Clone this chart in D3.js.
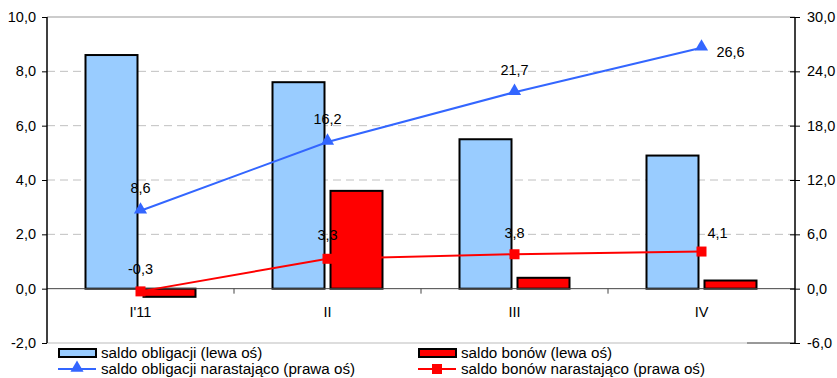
<!DOCTYPE html>
<html>
<head>
<meta charset="utf-8">
<script src="https://cdn.jsdelivr.net/npm/d3@7"></script>
<style>
  html, body { margin: 0; padding: 0; background: #fff; }
  svg { display: block; }
  text { font-family: "Liberation Sans", Arial, sans-serif; font-size: 14.5px; fill: #000; }
  .legend text { font-size: 15.2px; }
</style>
</head>
<body>
<svg id="chart" width="837" height="378"></svg>
<script>
// Quarterly categories
const categories = ["I'11", "II", "III", "IV"];

// Bars, left axis
const saldoObligacji = [8.6, 7.6, 5.5, 4.9];
const saldoBonow = [-0.3, 3.6, 0.4, 0.3];

// Cumulative lines, right axis
const obligacjiNarastajaco = [8.6, 16.2, 21.7, 26.6];
const bonowNarastajaco = [-0.3, 3.3, 3.8, 4.1];

// Axis ticks
const leftTicks = [-2, 0, 2, 4, 6, 8, 10];
const rightTicks = [-6, 0, 6, 12, 18, 24, 30];

const legendLabels = [
  "saldo obligacji (lewa oś)",
  "saldo bonów (lewa oś)",
  "saldo obligacji narastająco (prawa oś)",
  "saldo bonów narastająco (prawa oś)"
];

const BLUE_BAR = "#99CCFF", RED = "#FF0000", BLUE_LINE = "#3366FF";
const fmt = v => d3.format(".1f")(v).replace(".", ",").replace("−", "-");

const svg = d3.select("#chart");
const L = 47, R = 795, T = 17, B = 343;

const x = d3.scaleBand().domain(categories).range([L, R]).padding(0);
const yL = d3.scaleLinear().domain([-2, 10]).range([B, T]);
const yR = d3.scaleLinear().domain([-6, 30]).range([B, T]);
const inner = d3.scaleBand().domain(["obl", "bon"]).range([-55, 55]).paddingInner(6 / 58);
const cx = c => x(c) + x.bandwidth() / 2;

// Dashed grid lines
svg.append("g").selectAll("line")
  .data(leftTicks.filter(t => t > 0 && t < 10))
  .join("line")
  .attr("x1", L).attr("x2", R)
  .attr("y1", d => yL(d)).attr("y2", d => yL(d))
  .attr("stroke", "#c0c0c0").attr("stroke-width", 1)
  .attr("stroke-dasharray", "8,5");

// Plot frame (top and bottom)
svg.append("line").attr("x1", L).attr("x2", R).attr("y1", T).attr("y2", T)
  .attr("stroke", "#999").attr("stroke-width", 1.2);
svg.append("line").attr("x1", L).attr("x2", R).attr("y1", B).attr("y2", B)
  .attr("stroke", "#bbb").attr("stroke-width", 1);
svg.append("line").attr("x1", 747).attr("x2", R).attr("y1", B).attr("y2", B)
  .attr("stroke", "#555").attr("stroke-width", 1);

// Bars
const bars = svg.append("g");
bars.selectAll("rect.obl").data(categories).join("rect")
  .attr("x", (d) => cx(d) + inner("obl"))
  .attr("width", inner.bandwidth())
  .attr("y", (d, i) => yL(Math.max(0, saldoObligacji[i])))
  .attr("height", (d, i) => Math.abs(yL(saldoObligacji[i]) - yL(0)))
  .attr("fill", BLUE_BAR).attr("stroke", "#000").attr("stroke-width", 2);
bars.selectAll("rect.bon").data(categories).join("rect")
  .attr("x", (d) => cx(d) + inner("bon"))
  .attr("width", inner.bandwidth())
  .attr("y", (d, i) => yL(Math.max(0, saldoBonow[i])))
  .attr("height", (d, i) => Math.abs(yL(saldoBonow[i]) - yL(0)))
  .attr("fill", RED).attr("stroke", "#000").attr("stroke-width", 2);

// Zero line and category ticks
svg.append("line").attr("x1", L).attr("x2", R).attr("y1", yL(0)).attr("y2", yL(0))
  .attr("stroke", "#444").attr("stroke-width", 1);
svg.append("g").selectAll("line")
  .data(categories.slice(1))
  .join("line")
  .attr("x1", d => x(d)).attr("x2", d => x(d))
  .attr("y1", yL(0)).attr("y2", yL(0) + 5)
  .attr("stroke", "#444");

// Category labels
svg.append("g").selectAll("text").data(categories).join("text")
  .attr("x", d => cx(d)).attr("y", yL(0) + 28)
  .attr("text-anchor", "middle").text(d => d);

// Left axis
const gl = svg.append("g").attr("transform", `translate(${L},0)`)
  .call(d3.axisLeft(yL).tickValues(leftTicks).tickSize(5).tickPadding(6).tickFormat(fmt));
gl.select(".domain").attr("stroke", "#000").attr("stroke-width", 1.5).attr("d", `M0,${T}V${B}`);
gl.selectAll(".tick line").attr("stroke", "#000");
gl.attr("font-size", null).attr("font-family", null);

// Right axis
const gr = svg.append("g").attr("transform", `translate(${R},0)`)
  .call(d3.axisRight(yR).tickValues(rightTicks).tickSize(5).tickPadding(7).tickFormat(fmt));
gr.select(".domain").attr("stroke", "#000").attr("stroke-width", 1.5).attr("d", `M0,${T}V${B}`);
gr.selectAll(".tick line").attr("stroke", "#000").attr("x1", -5);
gr.attr("font-size", null).attr("font-family", null);

// Cumulative lines
const line = d3.line().x((d, i) => cx(categories[i])).y(d => yR(d));
svg.append("path").datum(obligacjiNarastajaco).attr("d", line)
  .attr("fill", "none").attr("stroke", BLUE_LINE).attr("stroke-width", 2);
svg.append("path").datum(bonowNarastajaco).attr("d", line)
  .attr("fill", "none").attr("stroke", RED).attr("stroke-width", 2);

const tri = d3.symbol().type(d3.symbolTriangle).size(75);
svg.append("g").selectAll("path").data(obligacjiNarastajaco).join("path")
  .attr("d", tri)
  .attr("transform", (d, i) => `translate(${cx(categories[i])},${yR(d) - 1})`)
  .attr("fill", BLUE_LINE);
svg.append("g").selectAll("rect").data(bonowNarastajaco).join("rect")
  .attr("x", (d, i) => cx(categories[i]) - 5).attr("y", d => yR(d) - 5)
  .attr("width", 10).attr("height", 10).attr("fill", RED);

// Value labels (offset per point: dx, dy from the marker)
const oblLabelOffset = [[0, -18], [0, -18], [0, -17], [29, 9]];
const bonLabelOffset = [[0, -17], [0, -19], [0, -16], [16, -14]];
svg.append("g").selectAll("text").data(obligacjiNarastajaco).join("text")
  .attr("x", (d, i) => cx(categories[i]) + oblLabelOffset[i][0])
  .attr("y", (d, i) => yR(d) + oblLabelOffset[i][1])
  .attr("text-anchor", "middle").text(fmt);
svg.append("g").selectAll("text").data(bonowNarastajaco).join("text")
  .attr("x", (d, i) => cx(categories[i]) + bonLabelOffset[i][0])
  .attr("y", (d, i) => yR(d) + bonLabelOffset[i][1])
  .attr("text-anchor", "middle").text(fmt);

// Legend
const legend = svg.append("g").attr("class", "legend");
const legendItems = [
  { label: legendLabels[0], kind: "bar", color: BLUE_BAR, x: 58, y: 353 },
  { label: legendLabels[1], kind: "bar", color: RED, x: 418, y: 353 },
  { label: legendLabels[2], kind: "line", color: BLUE_LINE, marker: "tri", x: 58, y: 369 },
  { label: legendLabels[3], kind: "line", color: RED, marker: "sq", x: 418, y: 369 }
];
legendItems.forEach(it => {
  const g = legend.append("g").attr("transform", `translate(${it.x},${it.y})`);
  if (it.kind === "bar") {
    g.append("rect").attr("x", 1).attr("y", -4).attr("width", 37).attr("height", 8)
      .attr("fill", it.color).attr("stroke", "#000").attr("stroke-width", 2);
  } else {
    g.append("line").attr("x1", 0).attr("x2", 38).attr("y1", 0).attr("y2", 0)
      .attr("stroke", it.color).attr("stroke-width", 2);
    if (it.marker === "tri") {
      g.append("path").attr("d", tri).attr("transform", "translate(19,-1)").attr("fill", it.color);
    } else {
      g.append("rect").attr("x", 14).attr("y", -5).attr("width", 10).attr("height", 10).attr("fill", it.color);
    }
  }
  g.append("text").attr("x", 43).attr("y", 0).attr("dy", "0.35em").text(it.label);
});
</script>
</body>
</html>
